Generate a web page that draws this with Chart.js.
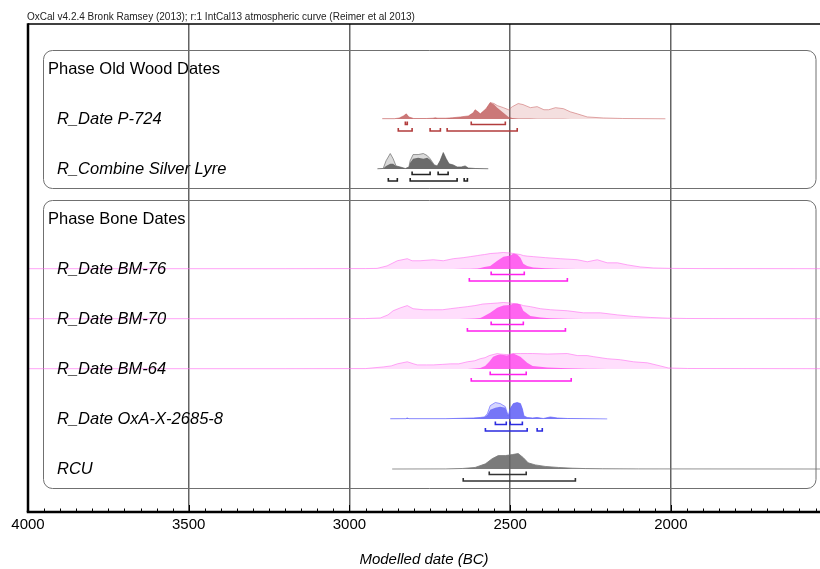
<!DOCTYPE html>
<html lang="en">
<head>
<meta charset="UTF-8">
<title>Modelled date (BC)</title>
<script src="https://cdn.jsdelivr.net/npm/chart.js@4.4.0/dist/chart.umd.min.js"></script>
<style>
  html, body { margin: 0; padding: 0; background: #fff; }
</style>
</head>
<body>
<canvas id="chart" width="820" height="569"></canvas>
<script>
// Rows from top to bottom (phase headers included)
const rowLabels = ['Phase Old Wood Dates', 'R_Date P-724', 'R_Combine Silver Lyre', 'Phase Bone Dates',
  'R_Date BM-76', 'R_Date BM-70', 'R_Date BM-64', 'R_Date OxA-X-2685-8', 'RCU'];
const phaseRows = [0, 3];
const phaseSpans = [[0, 2], [3, 8]];
const headerText = 'OxCal v4.2.4 Bronk Ramsey (2013); r:1 IntCal13 atmospheric curve (Reimer et al 2013)';
const axisMin = 1536, axisMax = 4000;

// relative probability, all curves on the same scale (peak ~16)
const p724Years = [2898, 2860, 2845, 2832, 2823, 2815, 2800, 2760, 2740, 2733, 2725, 2700, 2680, 2655, 2630, 2615, 2609, 2600, 2593, 2575, 2562, 2550, 2540, 2521, 2505, 2493, 2475, 2460, 2437, 2416, 2395, 2380, 2359, 2334, 2313, 2291, 2260, 2210, 2150, 2017];
const p724Prior = [0.3, 0.3, 1, 3, 5, 2, 0.5, 0.5, 0.8, 1.2, 0.8, 0.8, 1.2, 2, 3, 6, 9, 7, 5, 10, 16, 15, 13, 11, 9, 12, 15, 14, 11, 12, 9, 9, 11, 10, 7, 5, 2, 1, 0.5, 0.2];
const p724Post = [0.3, 0.3, 1, 3, 5, 2, 0.5, 0.5, 0.8, 1.2, 0.8, 0.8, 1.2, 2, 3, 6, 9, 7, 5, 10, 16, 14, 11, 6, 2, 1, 0.6, 0.5, 0.4, 0.3, 0.3, 0.2, 0.2, 0.2, 0.1, 0.1, 0, 0, 0, 0];
const p724Range68 = [[2826, 2820], [2621, 2515]];
const p724Range95 = [[2848, 2805], [2749, 2717], [2696, 2478]];

const silverYears = [2913, 2895, 2886, 2873, 2864, 2855, 2842, 2826, 2815, 2811, 2802, 2786, 2770, 2758, 2749, 2736, 2727, 2718, 2708, 2699, 2690, 2677, 2665, 2652, 2640, 2630, 2609, 2568];
const silverPrior = [0.2, 0.5, 8, 15, 10, 3, 2, 0.5, 2, 8, 14, 14, 15, 13, 10, 4, 3, 8, 16, 10, 5, 4, 2, 2, 3, 1, 0.5, 0.2];
const silverPost = [0.2, 0.5, 3, 5, 5, 3, 2, 0.5, 2, 6, 10, 11, 10, 11, 9, 4, 3, 8, 16, 10, 5, 4, 2, 2, 3, 1, 0.5, 0.2];
const silverRange68 = [[2805, 2749], [2724, 2693]];
const silverRange95 = [[2879, 2851], [2811, 2665], [2643, 2633]];

const bm76Years = [4000, 3200, 2950, 2914, 2883, 2851, 2820, 2805, 2780, 2739, 2708, 2677, 2646, 2624, 2602, 2593, 2580, 2562, 2540, 2521, 2499, 2490, 2478, 2468, 2459, 2447, 2428, 2390, 2344, 2291, 2260, 2229, 2198, 2166, 2135, 2095, 2054, 2002, 1900, 1536];
const bm76Prior = [0.3, 0.3, 0.4, 0.6, 3, 8, 10, 8, 8, 9, 8, 10, 11, 12, 13, 13.5, 14, 15, 15.5, 16, 15.5, 15, 14.5, 14, 13, 12.5, 12, 11, 10, 9, 7, 9, 6, 6, 4, 2, 1, 0.6, 0.4, 0.3];
const bm76Post = [0, 0, 0, 0, 0, 0, 0, 0, 0, 0, 0, 0.1, 0.2, 0.3, 0.6, 1, 2, 3, 8, 12, 13, 15, 14, 11, 5, 3, 1.5, 0.8, 0.3, 0.1, 0, 0, 0, 0, 0, 0, 0, 0, 0, 0];
const bm76Range68 = [[2559, 2456]];
const bm76Range95 = [[2627, 2322]];

const bm70Years = [4000, 3200, 2950, 2904, 2880, 2864, 2840, 2820, 2802, 2770, 2739, 2710, 2686, 2660, 2633, 2610, 2593, 2586, 2562, 2540, 2521, 2500, 2490, 2478, 2468, 2459, 2437, 2406, 2375, 2322, 2272, 2219, 2166, 2116, 2064, 2011, 1950, 1850, 1536];
const bm70Prior = [0.3, 0.3, 0.4, 1, 4, 8, 11, 13, 10, 9, 9, 9, 10, 11, 12, 13, 14, 14.5, 15, 15.5, 16, 15.5, 15, 14.5, 14, 13, 12, 10, 9, 8, 6, 6, 4, 2.5, 1.5, 0.8, 0.5, 0.4, 0.3];
const bm70Post = [0, 0, 0, 0, 0, 0, 0, 0, 0, 0, 0, 0, 0, 0.1, 0.3, 0.6, 1, 2, 6, 11, 13, 13.5, 15, 15, 14, 8, 3, 1.5, 0.8, 0.3, 0.1, 0, 0, 0, 0, 0, 0, 0, 0];
const bm70Range68 = [[2559, 2459]];
const bm70Range95 = [[2633, 2328]];

const bm64Years = [4000, 3200, 2950, 2895, 2870, 2851, 2820, 2800, 2789, 2760, 2739, 2710, 2686, 2660, 2633, 2610, 2593, 2578, 2565, 2553, 2540, 2531, 2510, 2490, 2468, 2447, 2430, 2384, 2322, 2290, 2260, 2241, 2198, 2157, 2116, 2073, 2033, 2008, 1948, 1536];
const bm64Prior = [0.3, 0.3, 0.4, 2, 3, 5, 7, 5, 4, 4, 4, 4.5, 5, 5, 7, 8, 10, 11, 13, 14, 15, 14.5, 14, 15, 15, 15, 15, 14.5, 15, 13, 13, 12, 10, 9, 7, 6, 3, 1, 0.5, 0.3];
const bm64Post = [0, 0, 0, 0, 0, 0, 0, 0, 0, 0, 0, 0, 0, 0, 0.1, 0.5, 1, 3, 7, 12, 13.5, 14, 13, 15, 12, 6, 3, 1.5, 0.7, 0.4, 0.3, 0.3, 0.1, 0, 0, 0, 0, 0, 0, 0];
const bm64Range68 = [[2562, 2450]];
const bm64Range95 = [[2621, 2310]];

const oxaYears = [2873, 2825, 2820, 2815, 2700, 2615, 2593, 2580, 2571, 2562, 2546, 2531, 2515, 2506, 2500, 2490, 2478, 2468, 2462, 2457, 2447, 2430, 2416, 2397, 2375, 2353, 2322, 2198];
const oxaPrior = [0.2, 0.3, 1, 0.3, 0.3, 1, 1.5, 2, 5, 13, 16, 15, 12, 3, 10, 15, 16, 15, 10, 3, 1.5, 1, 1.5, 0.5, 2, 1, 0.5, 0.1];
const oxaPost = [0.2, 0.3, 1, 0.3, 0.3, 1, 1.5, 2, 4, 9, 11, 12, 11, 3, 10, 15, 16, 15, 10, 3, 1.5, 1, 1.5, 0.5, 2, 1, 0.5, 0.1];
const oxaRange68 = [[2546, 2512], [2500, 2462]];
const oxaRange95 = [[2577, 2447], [2416, 2400]];

const rcuYears = [2867, 2700, 2649, 2609, 2577, 2556, 2537, 2515, 2493, 2475, 2459, 2444, 2422, 2391, 2350, 2307, 2266, 2213, 2100, 1536];
const rcuPost = [0, 0.1, 0.5, 1.5, 5, 10, 13, 13, 14, 15, 11, 6, 4, 2.5, 1.5, 0.8, 0.4, 0.2, 0.1, 0];
const rcuRange68 = [[2565, 2450]];
const rcuRange95 = [[2646, 2297]];

// drawing constants (in row units on the hidden y scale)
const PEAK = 16, CURVE_HEIGHT = 0.33, BRACKET_68 = 0.11, BRACKET_95 = 0.24, BRACKET_TICK = 0.06;

const pink = { prior: 'rgba(255,90,240,0.2)', priorLine: 'rgba(255,110,240,0.6)', post: 'rgba(255,70,238,0.8)', bracket: '#ff1fee' };
const series = [
  { row: 1, years: p724Years, prior: p724Prior, post: p724Post, r68: p724Range68, r95: p724Range95,
    col: { prior: 'rgba(205,110,110,0.22)', priorLine: 'rgba(205,110,110,0.6)', post: 'rgba(190,85,85,0.75)', bracket: '#b23c3c' } },
  { row: 2, years: silverYears, prior: silverPrior, post: silverPost, r68: silverRange68, r95: silverRange95,
    col: { prior: 'rgba(150,150,150,0.35)', priorLine: 'rgba(110,110,110,0.7)', post: 'rgba(80,80,80,0.8)', bracket: '#222' } },
  { row: 4, years: bm76Years, prior: bm76Prior, post: bm76Post, r68: bm76Range68, r95: bm76Range95, col: pink },
  { row: 5, years: bm70Years, prior: bm70Prior, post: bm70Post, r68: bm70Range68, r95: bm70Range95, col: pink },
  { row: 6, years: bm64Years, prior: bm64Prior, post: bm64Post, r68: bm64Range68, r95: bm64Range95, col: pink },
  { row: 7, years: oxaYears, prior: oxaPrior, post: oxaPost, r68: oxaRange68, r95: oxaRange95,
    col: { prior: 'rgba(90,90,255,0.25)', priorLine: 'rgba(100,100,255,0.65)', post: 'rgba(95,95,245,0.8)', bracket: '#2b2be0' } },
  { row: 8, years: rcuYears, prior: null, post: rcuPost, r68: rcuRange68, r95: rcuRange95,
    col: { prior: null, priorLine: 'rgba(120,120,120,0.8)', post: 'rgba(100,100,100,0.85)', bracket: '#333' } }
];

function curve(years, vals, row) {
  return years.map((x, i) => ({ x: x, y: row - vals[i] / PEAK * CURVE_HEIGHT }));
}

function brackets(ranges, y) {
  const pts = [];
  ranges.forEach(([a, b]) => {
    pts.push({ x: a, y: y - BRACKET_TICK }, { x: a, y: y }, { x: b, y: y }, { x: b, y: y - BRACKET_TICK }, { x: b, y: null });
  });
  return pts;
}

const datasets = [];
series.forEach(s => {
  if (s.prior) {
    datasets.push({ data: curve(s.years, s.prior, s.row), order: 3, fill: { value: s.row },
      backgroundColor: s.col.prior, borderColor: s.col.priorLine, borderWidth: 1 });
  }
  datasets.push({ data: curve(s.years, s.post, s.row), order: 2, fill: { value: s.row },
    backgroundColor: s.col.post, borderColor: s.prior ? 'rgba(0,0,0,0)' : s.col.priorLine, borderWidth: 1 });
  datasets.push({ data: brackets(s.r68, s.row + BRACKET_68), order: 1, fill: false, spanGaps: false,
    borderColor: s.col.bracket, borderWidth: 1.6 });
  datasets.push({ data: brackets(s.r95, s.row + BRACKET_95), order: 1, fill: false, spanGaps: false,
    borderColor: s.col.bracket, borderWidth: 1.6 });
});

const FONT = '"Liberation Sans", Arial, sans-serif';

const oxcalDecor = {
  id: 'oxcalDecor',
  beforeDatasetsDraw(chart) {
    const { ctx, chartArea: a, scales: { y } } = chart;
    ctx.save();
    ctx.strokeStyle = '#707070';
    ctx.lineWidth = 1;
    phaseSpans.forEach(([r0, r1]) => {
      const top = Math.round(y.getPixelForValue(r0) - 19) + 0.5;
      const bottom = Math.round(y.getPixelForValue(r1) + 19) + 0.5;
      ctx.beginPath();
      ctx.roundRect(a.left + 15.5, top, a.right - 4 - (a.left + 15.5), bottom - top, 9);
      ctx.stroke();
    });
    ctx.restore();
  },
  afterDraw(chart) {
    const { ctx, chartArea: a, scales: { x, y } } = chart;
    ctx.save();
    // frame
    ctx.strokeStyle = '#000';
    ctx.lineWidth = 1.5;
    ctx.beginPath(); ctx.moveTo(a.left, a.top); ctx.lineTo(a.right, a.top); ctx.stroke();
    ctx.lineWidth = 2.5;
    ctx.beginPath(); ctx.moveTo(a.left, a.top - 0.75); ctx.lineTo(a.left, a.bottom); ctx.stroke();
    ctx.beginPath(); ctx.moveTo(a.left - 1.25, a.bottom); ctx.lineTo(a.right, a.bottom); ctx.stroke();
    // tick marks pointing into the plot
    ctx.lineWidth = 1;
    x.ticks.forEach(t => {
      const px = Math.round(x.getPixelForValue(t.value)) + 0.5;
      const len = t.value % 500 === 0 ? 7 : 3.5;
      ctx.beginPath(); ctx.moveTo(px, a.bottom); ctx.lineTo(px, a.bottom - len); ctx.stroke();
    });
    // row labels
    ctx.fillStyle = '#000';
    ctx.textBaseline = 'middle';
    ctx.textAlign = 'left';
    rowLabels.forEach((label, i) => {
      const py = y.getPixelForValue(i);
      if (phaseRows.includes(i)) {
        ctx.font = '16.5px ' + FONT;
        ctx.fillText(label, a.left + 20, py);
      } else {
        ctx.font = 'italic 16.5px ' + FONT;
        ctx.fillText(label, a.left + 29, py);
      }
    });
    // calibration note above the frame
    ctx.font = '10px ' + FONT;
    ctx.fillStyle = '#222';
    ctx.fillText(headerText, a.left - 1, 17);
    ctx.restore();
  }
};

new Chart(document.getElementById('chart'), {
  type: 'line',
  data: { datasets: datasets },
  options: {
    responsive: false,
    animation: false,
    devicePixelRatio: 1,
    layout: { padding: { left: 28, top: 24, right: 0, bottom: 0 } },
    elements: { point: { radius: 0 }, line: { tension: 0 } },
    plugins: { legend: { display: false }, tooltip: { enabled: false } },
    scales: {
      x: {
        type: 'linear',
        reverse: true,
        min: axisMin,
        max: axisMax,
        z: 1,
        afterFit(scale) { scale.height = 57; },
        border: { display: false },
        grid: {
          drawTicks: false,
          lineWidth: 1.5,
          color: ctx => (ctx.tick && ctx.tick.value % 500 === 0 && ctx.tick.value < axisMax) ? 'rgba(60,60,60,0.8)' : 'rgba(0,0,0,0)'
        },
        ticks: {
          stepSize: 50,
          includeBounds: false,
          autoSkip: false,
          minRotation: 0,
          maxRotation: 0,
          padding: 4,
          color: '#000',
          font: { family: FONT, size: 15 },
          callback: v => (v % 500 === 0 ? String(v) : '')
        },
        title: {
          display: true,
          text: 'Modelled date (BC)',
          color: '#000',
          font: { family: FONT, size: 15, style: 'italic' },
          padding: { top: 0, bottom: 0 }
        }
      },
      y: {
        type: 'linear',
        display: false,
        reverse: true,
        min: -0.9,
        max: 8.86
      }
    }
  },
  plugins: [oxcalDecor]
});
</script>
</body>
</html>
